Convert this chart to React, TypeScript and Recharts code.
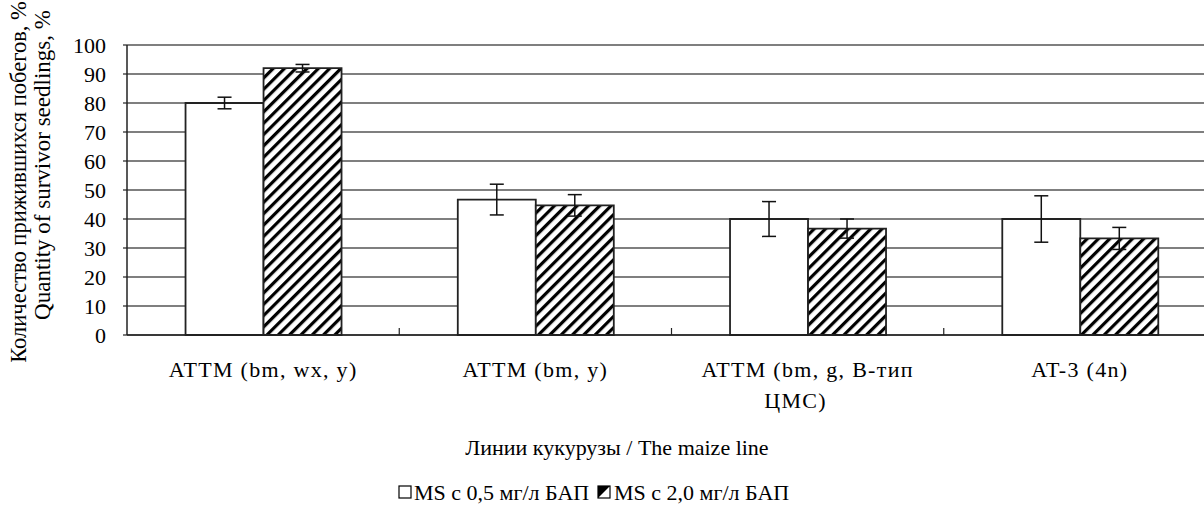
import React from "react";
import { BarChart, Bar, XAxis, YAxis, CartesianGrid, ErrorBar } from "recharts";

const categories = ["ATTM (bm, wx, y)", "ATTM (bm, y)", "ATTM (bm, g, В-тип ЦМС)", "AT-3 (4n)"];
const seriesLow = [80, 46.7, 40, 40];
const errLow = [2, 5.3, 6, 8];
const seriesHigh = [92, 44.7, 36.7, 33.3];
const errHigh = [1.3, 3.7, 3.3, 3.8];
const yTicks = [0, 10, 20, 30, 40, 50, 60, 70, 80, 90, 100];
const legendLabels = ["MS с 0,5 мг/л БАП", "MS с 2,0 мг/л БАП"];
const yTitle1 = "Количество прижившихся побегов, %";
const yTitle2 = "Quantity of survivor seedlings, %";
const xTitle = "Линии кукурузы / The maize line";

const data = categories.map((c, i) => ({
  name: c,
  low: seriesLow[i],
  lowErr: errLow[i],
  high: seriesHigh[i],
  highErr: errHigh[i],
}));

const FONT = "'Liberation Serif', 'Times New Roman', serif";
const CHART_W = 1220;
const MARGIN_L = 0;
const MARGIN_R = 4;
const YAXIS_W = 127;
const BAND = (CHART_W - MARGIN_L - MARGIN_R - YAXIS_W) / categories.length;
const MAX_CHARS = 18;

function wrap(label: string): string[] {
  const words = label.split(" ");
  const lines: string[] = [];
  let cur = "";
  for (const w of words) {
    const next = cur ? cur + " " + w : w;
    if (next.length > MAX_CHARS && cur) {
      lines.push(cur);
      cur = w;
    } else {
      cur = next;
    }
  }
  if (cur) lines.push(cur);
  return lines;
}

const CatTick = (props: any) => {
  const { x, y, payload, index } = props;
  const lines = wrap(String(payload.value));
  return (
    <g>
      {index > 0 && (
        <line x1={x - BAND / 2} x2={x - BAND / 2} y1={y} y2={y - 7} stroke="#222" strokeWidth={1.2} />
      )}
      <text
        x={x}
        y={y + 42}
        textAnchor="middle"
        fontSize={22}
        fill="#000"
        style={{ fontFamily: FONT, letterSpacing: "1.3px" }}
      >
        {lines.map((ln, i) => (
          <tspan key={i} x={i === 0 ? x : x - 12} dy={i === 0 ? 0 : 31}>
            {ln}
          </tspan>
        ))}
      </text>
    </g>
  );
};

const YTick = (props: any) => {
  const { x, y, payload } = props;
  return (
    <text x={x - 3} y={y} textAnchor="end" dominantBaseline="central" fontSize={22} fill="#000" style={{ fontFamily: FONT }}>
      {payload.value}
    </text>
  );
};

export default function App() {
  return (
    <div style={{ position: "absolute", left: 0, top: 0, width: 1204, height: 506, overflow: "hidden", background: "#fff", fontFamily: FONT }}>
      <svg width={0} height={0} style={{ position: "absolute" }}>
        <defs>
          <pattern id="hatch" patternUnits="userSpaceOnUse" width="8" height="8" patternTransform="rotate(45)">
            <rect x="0" y="0" width="8" height="8" fill="#fff" />
            <rect x="0" y="0" width="3.2" height="8" fill="#000" />
          </pattern>
        </defs>
      </svg>
      <BarChart
        width={CHART_W}
        height={506}
        data={data}
        margin={{ top: 45, right: MARGIN_R, bottom: 111, left: MARGIN_L }}
        barCategoryGap="21.5%"
        barGap={0}
        style={{ fontFamily: FONT }}
      >
        <CartesianGrid vertical={false} stroke="#555" strokeWidth={1.3} />
        <XAxis
          dataKey="name"
          height={60}
          interval={0}
          tickLine={false}
          tickSize={0}
          tickMargin={0}
          axisLine={{ stroke: "#222", strokeWidth: 1.5 }}
          tick={<CatTick />}
        />
        <YAxis
          width={YAXIS_W}
          domain={[0, 100]}
          ticks={yTicks}
          interval={0}
          tickSize={4}
          tickMargin={14}
          axisLine={{ stroke: "#222", strokeWidth: 1.5 }}
          tickLine={{ stroke: "#222", strokeWidth: 1.2 }}
          tick={<YTick />}
        />
        <Bar dataKey="low" fill="#fff" stroke="#222" strokeWidth={1.8} isAnimationActive={false}>
          <ErrorBar dataKey="lowErr" width={7} stroke="#111" strokeWidth={1.5} />
        </Bar>
        <Bar dataKey="high" fill="url(#hatch)" stroke="#222" strokeWidth={1.8} isAnimationActive={false}>
          <ErrorBar dataKey="highErr" width={7} stroke="#111" strokeWidth={1.5} />
        </Bar>
      </BarChart>
      <svg
        width={1204}
        height={506}
        style={{ position: "absolute", left: 0, top: 0, pointerEvents: "none", fontFamily: FONT }}
      >
        <text x={18} y={182} transform="rotate(-90 18 182)" textAnchor="middle" dominantBaseline="central" fontSize={22.5} fill="#000">
          {yTitle1}
        </text>
        <text x={42} y={165} transform="rotate(-90 42 165)" textAnchor="middle" dominantBaseline="central" fontSize={23} fill="#000">
          {yTitle2}
        </text>
        <text x={617} y={447} textAnchor="middle" dominantBaseline="central" fontSize={22} fill="#000">
          {xTitle}
        </text>
        <g>
          <rect x={399} y={486} width={12} height={12} fill="#fff" stroke="#000" strokeWidth={1.2} />
          <text x={414} y={492} dominantBaseline="central" fontSize={22} fill="#000">
            {legendLabels[0]}
          </text>
          <rect x={598} y={486} width={12} height={12} fill="#fff" stroke="#000" strokeWidth={1.2} />
          <polygon points="598,498 610,486 598,486" fill="#000" />
          <text x={614} y={492} dominantBaseline="central" fontSize={22} fill="#000">
            {legendLabels[1]}
          </text>
        </g>
      </svg>
    </div>
  );
}
